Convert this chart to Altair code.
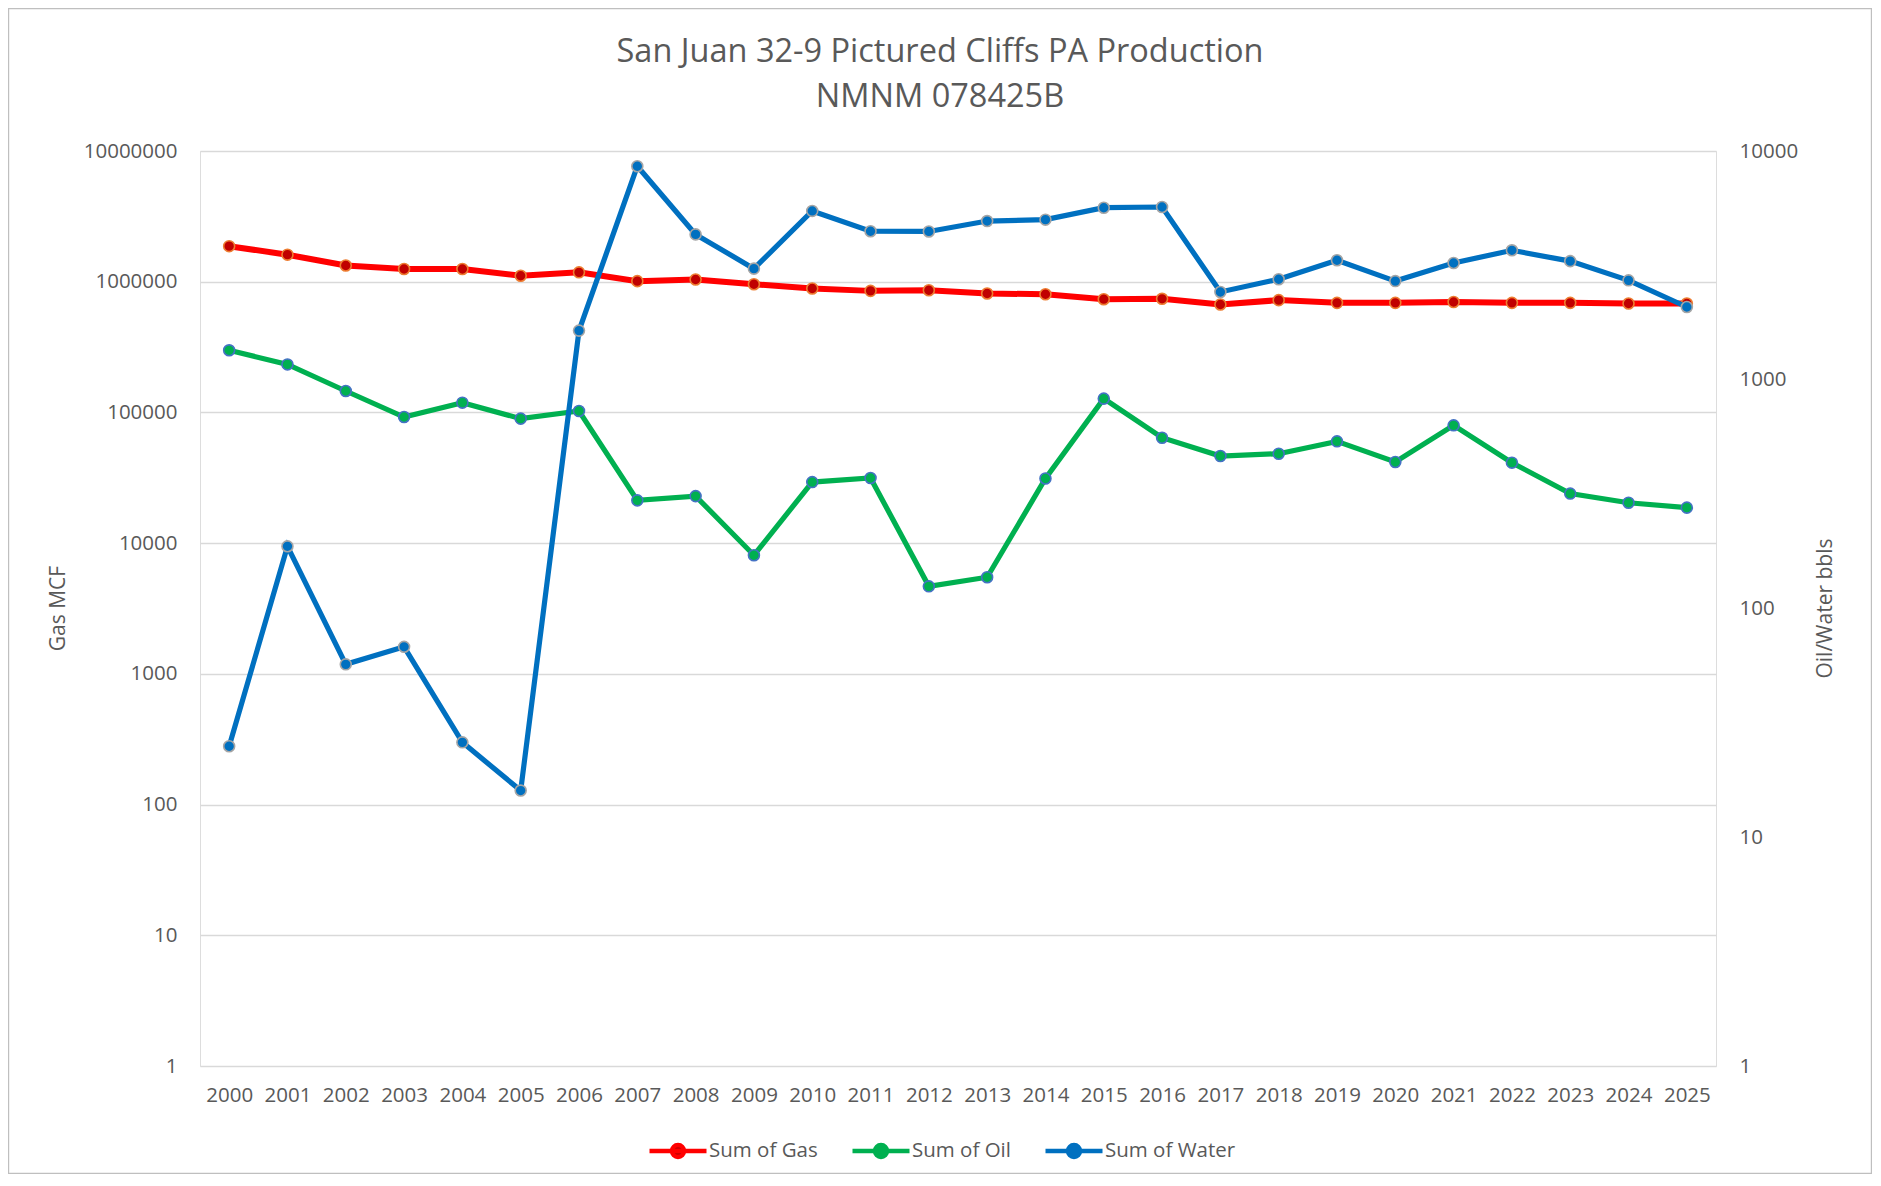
import altair as alt
import pandas as pd

years = ["2000", "2001", "2002", "2003", "2004", "2005", "2006", "2007", "2008",
         "2009", "2010", "2011", "2012", "2013", "2014", "2015", "2016", "2017",
         "2018", "2019", "2020", "2021", "2022", "2023", "2024", "2025"]

gas = [1870000, 1610000, 1330000, 1250000, 1250000, 1110000, 1180000, 1010000,
       1040000, 957000, 887000, 851000, 861000, 813000, 802000, 735000, 740000,
       670000, 723000, 689000, 689000, 700000, 689000, 689000, 681000, 681000]

oil = [1345, 1167, 893, 687, 794, 676, 730, 297, 310, 171, 357, 372, 125, 137,
       370, 827, 558, 464, 475, 538, 437, 632, 434, 318, 290, 276]

water = [25, 187, 57, 68, 26, 16, 1640, 8580, 4320, 3060, 5470, 4460, 4450,
         4940, 5010, 5650, 5690, 2420, 2750, 3330, 2700, 3240, 3680, 3300,
         2720, 2080]

series_names = ["Sum of Gas", "Sum of Oil", "Sum of Water"]
line_colors = ["#FF0000", "#00B050", "#0070C0"]
marker_fills = ["#C00000", "#00B050", "#0070C0"]
marker_rings = ["#ED7D31", "#4472C4", "#A5A5A5"]

left_ticks = [1, 10, 100, 1000, 10000, 100000, 1000000, 10000000]
right_ticks = [1, 10, 100, 1000, 10000]

FONT = "Open Sans"
TXT = "#595959"

W, H = 1516, 915
PL, PT, PR, PB = 192, 143, 156, 108

def frame(values, name):
    return pd.DataFrame({"year": years, "value": values, "series": name})

df_gas = frame(gas, series_names[0])
df_oil = frame(oil, series_names[1])
df_water = frame(water, series_names[2])

legend_path = ("M-1,0L1,0 M0.21,0A0.21,0.21 0 1 1 -0.21,0A0.21,0.21 0 1 1 0.21,0Z")

legend = alt.Legend(
    title=None, orient="none", legendX=447, legendY=969, direction="horizontal",
    symbolType=legend_path, symbolSize=3249, symbolStrokeWidth=4.5,
    labelFont=FONT, labelFontSize=20.5, labelColor=TXT, labelOffset=0,
    columnPadding=25, padding=0,
)

stroke_scale = alt.Scale(domain=series_names, range=line_colors)
fill_scale = alt.Scale(domain=series_names, range=marker_fills)

x_enc = alt.X(
    "year:O", sort=years, scale=alt.Scale(padding=0.5),
    axis=alt.Axis(title=None, labelAngle=0, ticks=False, domain=False, grid=False,
                  labelFont=FONT, labelFontSize=20.5, labelColor=TXT, labelPadding=19),
)

y_left = alt.Y(
    "value:Q",
    scale=alt.Scale(type="log", domain=[1, 10000000], nice=False),
    axis=alt.Axis(values=left_ticks, format="d", orient="left", ticks=False, domain=False,
                  grid=True, gridColor="#D9D9D9", gridWidth=1.5,
                  labelFont=FONT, labelFontSize=20.5, labelColor=TXT, labelPadding=23,
                  title="Gas MCF", titleFont=FONT, titleFontSize=21, titleFontWeight="normal",
                  titleColor=TXT, titleAngle=270, titleX=-132, titleY=457),
)

y_right = alt.Y(
    "value:Q",
    scale=alt.Scale(type="log", domain=[1, 10000], nice=False),
    axis=alt.Axis(values=right_ticks, format="d", orient="right", ticks=False, domain=False,
                  grid=False,
                  labelFont=FONT, labelFontSize=20.5, labelColor=TXT, labelPadding=23,
                  title="Oil/Water bbls", titleFont=FONT, titleFontSize=21,
                  titleFontWeight="normal", titleColor=TXT, titleAngle=270,
                  titleX=119, titleY=457),
)


def series_layers(df, y_enc, ring, lw):
    line = alt.Chart(df).mark_line(strokeWidth=lw).encode(
        x=x_enc, y=y_enc,
        stroke=alt.Stroke("series:N", scale=stroke_scale, legend=legend),
    )
    pts = alt.Chart(df).mark_point(filled=True, size=120, opacity=1, strokeWidth=1.6).encode(
        x=x_enc, y=y_enc,
        fill=alt.Fill("series:N", scale=fill_scale, legend=legend),
        stroke=alt.value(ring),
    )
    return [line, pts]


left_layer = alt.layer(*series_layers(df_gas, y_left, marker_rings[0], 6))
right_layer = alt.layer(
    *series_layers(df_oil, y_right, marker_rings[1], 5.2),
    *series_layers(df_water, y_right, marker_rings[2], 5.2),
)

border = alt.Chart(pd.DataFrame({"a": [0]})).mark_rect(
    filled=False, stroke="#BFBFBF", strokeWidth=1.2
).encode(
    x=alt.value(-PL + 0.6), x2=alt.value(W + PR - 0.6),
    y=alt.value(-PT + 0.6), y2=alt.value(H + PB - 0.6),
)

chart = alt.layer(left_layer, right_layer, border).resolve_scale(
    y="independent"
).properties(
    width=W, height=H,
    title=alt.Title(
        ["San Juan 32-9 Pictured Cliffs PA Production", "NMNM 078425B"],
        font=FONT, fontSize=32.5, fontWeight="normal", color=TXT,
        lineHeight=45, anchor="middle", dx=-18, offset=38, dy=143, frame="group",
    ),
    autosize=alt.AutoSizeParams(type="none"),
    padding={"left": PL, "top": PT, "right": PR, "bottom": PB},
).configure_view(stroke=None).configure(background="white")

chart.save("out.html", embed_options={"renderer": "svg", "actions": False})
